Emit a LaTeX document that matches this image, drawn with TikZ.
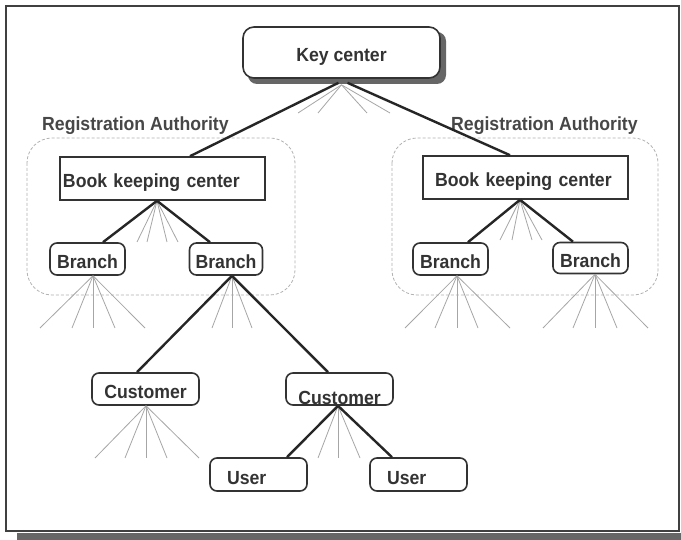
\documentclass[tikz,border=0pt]{standalone}
\usepackage{fontspec}
\setmainfont{Liberation Sans}[FakeStretch=0.93]
\begin{document}
\begin{tikzpicture}[x=1pt,y=-1pt,
 txt/.style={font=\fontsize{19}{21}\selectfont\bfseries, text=black!80, text height=19pt, text depth=0pt},
 rbox/.style={draw=black!80, line width=1.6pt, rounded corners=7pt, fill=white, txt, inner sep=0pt},
 sbox/.style={draw=black!80, line width=1.6pt, fill=white, txt, inner sep=0pt},
 link/.style={draw=black!85, line width=2.4pt},
 fan/.style={draw=black!35, line width=0.8pt},
 ra/.style={draw=black!30, dash pattern=on 3pt off 2pt, line width=0.8pt, rounded corners=25pt},
 ralabel/.style={txt, text=black!72, anchor=west, inner sep=0pt}]
\useasboundingbox (0,0) rectangle (681,540);
% frame and its shadow
\fill[black!60] (17,533) rectangle (681,540);
\draw[black!75, line width=1.8pt, fill=white] (6,6) rectangle (679,531);
% registration authority areas
\draw[ra] (27,138) rectangle (295,295);
\draw[ra] (392,138) rectangle (658,295);
\node[ralabel] (ra1) at (42,121.5) {Registration Authority};
\node[ralabel] (ra2) at (451,121.5) {Registration Authority};
% key center with shadow
\fill[black!60, rounded corners=9pt] (248,32) rectangle (446,84);
\node[rbox, rounded corners=11pt, minimum width=197pt, minimum height=51pt] (kc) at (341.5,52.5) {Key center};
% book keeping centers
\node[sbox, minimum width=205pt, minimum height=43pt, text width=199pt, align=left] (bk1) at (162.5,178.5) {Book keeping center};
\node[sbox, minimum width=205pt, minimum height=43pt, text width=181pt, align=left] (bk2) at (525.5,177.5) {Book keeping center};
% branches
\node[rbox, minimum width=75pt, minimum height=32pt] (b1) at (87.5,259) {Branch};
\node[rbox, minimum width=73pt, minimum height=32pt] (b2) at (226,259) {Branch};
\node[rbox, minimum width=75pt, minimum height=32pt] (b3) at (450.5,259) {Branch};
\node[rbox, minimum width=75pt, minimum height=31pt] (b4) at (590.5,258) {Branch};
% customers
\node[rbox, minimum width=107pt, minimum height=32pt] (c1) at (145.5,389) {Customer};
\node[rbox, minimum width=107pt, minimum height=32pt,
  label={[txt, inner sep=0pt, yshift=-6pt]center:Customer}] (c2) at (339.5,389) {};
% users
\node[rbox, minimum width=97pt, minimum height=33pt, text width=63pt, align=left] (u1) at (258.5,474.5) {User};
\node[rbox, minimum width=97pt, minimum height=33pt, text width=63pt, align=left] (u2) at (418.5,474.5) {User};
% light fan lines
\foreach \e in {298,318,367,390} \draw[fan] ([yshift=-6pt]kc.south) -- (\e,113);
\foreach \e in {137,147,167,178} \draw[fan] ([xshift=-5.5pt]bk1.south) -- (\e,242);
\foreach \e in {500,512,532,542} \draw[fan] ([xshift=-5.5pt]bk2.south) -- (\e,240);
\foreach \e in {40,72,93,115,145} \draw[fan] ([xshift=5.5pt]b1.south) -- (\e,328);
\foreach \e in {212,232,252} \draw[fan] ([xshift=6pt]b2.south) -- (\e,328);
\foreach \e in {405,435,457,478,510} \draw[fan] ([xshift=6.5pt]b3.south) -- (\e,328);
\foreach \e in {543,573,595,617,648} \draw[fan] ([xshift=4.5pt]b4.south) -- (\e,328);
\foreach \e in {95,125,146,167,199} \draw[fan] ([xshift=0.5pt]c1.south) -- (\e,458);
\foreach \e in {318,338,360} \draw[fan] ([xshift=-1.5pt]c2.south) -- (\e,458);
% hierarchy links
\draw[link] ([xshift=-3pt,yshift=-4pt]kc.south) -- ([xshift=27.5pt]bk1.north);
\draw[link] ([xshift=6pt,yshift=-4pt]kc.south) -- ([xshift=-15.5pt]bk2.north);
\draw[link] ([xshift=-5.5pt]bk1.south) -- ([xshift=15.5pt]b1.north);
\draw[link] ([xshift=-5.5pt]bk1.south) -- ([xshift=-16pt]b2.north);
\draw[link] ([xshift=-5.5pt]bk2.south) -- ([xshift=17.5pt]b3.north);
\draw[link] ([xshift=-5.5pt]bk2.south) -- ([xshift=-17.5pt]b4.north);
\draw[link] ([xshift=6pt]b2.south) -- ([xshift=-8.5pt]c1.north);
\draw[link] ([xshift=6pt]b2.south) -- ([xshift=-11.5pt]c2.north);
\draw[link] ([xshift=-1.5pt]c2.south) -- ([xshift=28.5pt]u1.north);
\draw[link] ([xshift=-1.5pt]c2.south) -- ([xshift=-26.5pt]u2.north);
\end{tikzpicture}
\end{document}
